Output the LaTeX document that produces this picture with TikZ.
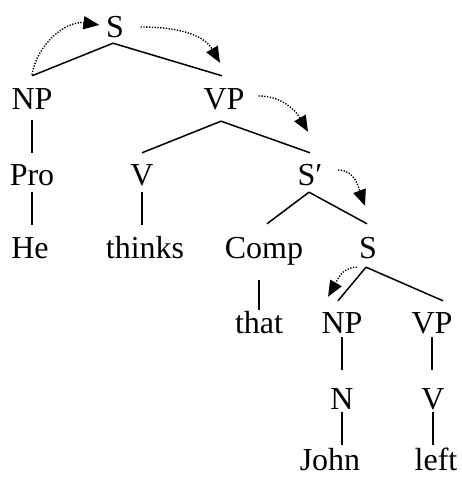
\documentclass[tikz,border=0pt]{standalone}
\usepackage{fontspec}
\setmainfont{Liberation Serif}
\usetikzlibrary{arrows.meta}

\tikzset{
  cat/.style={inner sep=0pt, text height=21pt, text depth=0pt,
    font=\fontsize{32}{36}\selectfont},
  branch/.style={line width=1.5pt},
  move/.style={line width=1.4pt, dash pattern=on 1.3pt off 1.5pt,
    -{Triangle[length=16pt,width=13pt]}}
}

\begin{document}
\begin{tikzpicture}[x=1pt,y=1pt]
    \useasboundingbox (0,0) rectangle (461,481);

    % categories
    \node[cat] (s0) at (115,454) {S};
    \node[cat] (np1) at (32,382) {NP};
    \node[cat] (vp1) at (224,382) {VP};
    \node[cat] (pro) at (32,306) {Pro};
    \node[cat] (v1) at (142,306) {V};
    \node[cat] (sbar) at (310,306) {S′};
    \node[cat] (comp) at (264,233) {Comp};
    \node[cat] (s2) at (368,233) {S};
    \node[cat] (np2) at (342,158) {NP};
    \node[cat] (vp2) at (432,158) {VP};
    \node[cat] (n) at (342,82) {N};
    \node[cat] (v2) at (433,82) {V};

    % words
    \node[cat] (he) at (30,233) {He};
    \node[cat] (thinks) at (145,233) {thinks};
    \node[cat] (that) at (259,158) {that};
    \node[cat] (john) at (330,21) {John};
    \node[cat] (left) at (436,21) {left};

    % branches
    \draw[branch] ([xshift=-2pt,yshift=-5.5pt]s0.south) -- ([yshift=12.5pt]np1.north);
    \draw[branch] ([xshift=-2pt,yshift=-5.5pt]s0.south) -- ([xshift=-2pt,yshift=12.5pt]vp1.north);
    \draw[branch] ([yshift=-10.5pt]np1.south) -- ([yshift=11.5pt]np1.south |- pro.north);
    \draw[branch] ([yshift=-6.5pt]pro.south) -- ([yshift=12.5pt]pro.south |- he.north);

    \draw[branch] ([xshift=-3pt,yshift=-11.5pt]vp1.south) -- ([yshift=11.5pt]v1.north);
    \draw[branch] ([xshift=-3pt,yshift=-11.5pt]vp1.south) -- ([yshift=11.5pt]sbar.north);
    \draw[branch] ([yshift=-6.5pt]v1.south) -- ([yshift=12.5pt]v1.south |- thinks.north);

    \draw[branch] ([xshift=-1pt,yshift=-6.5pt]sbar.south) -- ([xshift=3pt,yshift=13.5pt]comp.north);
    \draw[branch] ([xshift=-1pt,yshift=-6.5pt]sbar.south) -- ([xshift=-1pt,yshift=13.5pt]s2.north);
    \draw[branch] ([yshift=-21.5pt]that.north |- comp.south) -- ([yshift=2.5pt]that.north);

    \draw[branch] ([xshift=-2pt,yshift=-8.5pt]s2.south) -- ([xshift=-4pt,yshift=11.5pt]np2.north);
    \draw[branch] ([xshift=-2pt,yshift=-8.5pt]s2.south) -- ([xshift=11pt,yshift=11.5pt]vp2.north);
    \draw[branch] ([yshift=-3.5pt]np2.south) -- ([yshift=18.5pt]n.north);
    \draw[branch] ([yshift=-3.5pt]vp2.south) -- ([yshift=18.5pt]vp2.south |- v2.north);
    \draw[branch] ([yshift=-2.5pt]n.south) -- ([yshift=4.5pt]n.south |- john.north);
    \draw[branch] ([yshift=-2.5pt]v2.south) -- ([yshift=4.5pt]v2.south |- left.north);

    % movement arrows
    \draw[move] ([yshift=13.5pt]np1.north) to[out=80,in=172] ([xshift=-6.5pt,yshift=2pt]s0.west);
    \draw[move] ([xshift=16.5pt]s0.east) to[out=0,in=120] ([xshift=-4pt,yshift=25.5pt]vp1.north);
    \draw[move] ([xshift=14pt,yshift=3pt]vp1.east) to[out=0,in=120] ([xshift=-2pt,yshift=32.5pt]sbar.north);
    \draw[move] ([xshift=15.5pt,yshift=5pt]sbar.east) to[out=0,in=110] ([xshift=-3pt,yshift=31.5pt]s2.north);
    \draw[move] ([xshift=-11pt,yshift=-8.5pt]s2.south) to[out=180,in=60] ([xshift=-14pt,yshift=15.5pt]np2.north);

\end{tikzpicture}
\end{document}
